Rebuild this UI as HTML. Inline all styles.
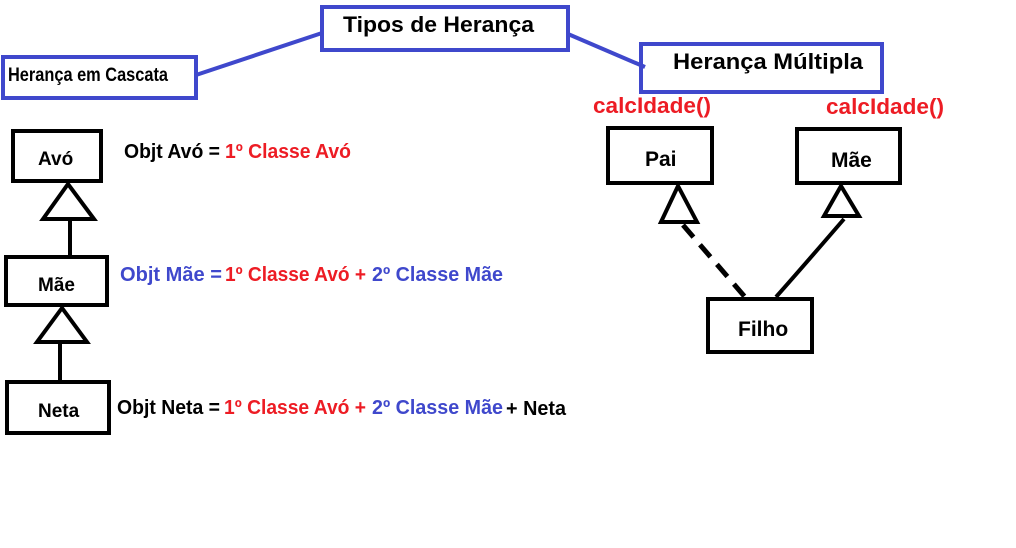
<!DOCTYPE html>
<html><head><meta charset="utf-8"><style>body{margin:0;background:#fff}svg{display:block}text{font-family:"Liberation Sans",sans-serif;font-weight:bold}</style></head>
<body>
<svg width="1016" height="548" viewBox="0 0 1016 548" xmlns="http://www.w3.org/2000/svg">
<rect width="1016" height="548" fill="#fff"/>
<g fill="none" stroke="#3f48cc" stroke-width="4">
<rect x="322" y="7" width="246" height="43"/>
<rect x="3" y="57" width="193" height="41"/>
<rect x="641" y="44" width="241" height="48"/>
<line x1="196" y1="75" x2="322" y2="33"/>
<line x1="568" y1="34" x2="645" y2="67"/>
</g>
<text x="343" y="32" font-size="22" textLength="191" lengthAdjust="spacingAndGlyphs">Tipos de Herança</text>
<text x="8" y="81" font-size="19" textLength="160" lengthAdjust="spacingAndGlyphs">Herança em Cascata</text>
<text x="673" y="69" font-size="22" textLength="190" lengthAdjust="spacingAndGlyphs">Herança Múltipla</text>
<text x="593" y="113" font-size="22" fill="#ed1c24" textLength="118" lengthAdjust="spacingAndGlyphs">calcIdade()</text>
<text x="826" y="114" font-size="22" fill="#ed1c24" textLength="118" lengthAdjust="spacingAndGlyphs">calcIdade()</text>
<g fill="none" stroke="#000" stroke-width="4">
<rect x="608" y="128" width="104" height="55"/>
<rect x="797" y="129" width="103" height="54"/>
<rect x="708" y="299" width="104" height="53"/>
<polygon points="678,186 661,222 697,222"/>
<polygon points="841,186 824,216 859,216"/>
<line x1="683" y1="225" x2="745" y2="297" stroke-width="5" stroke-dasharray="16,10"/>
<path d="M844,219 Q800,270 776,297"/>
<rect x="13" y="131" width="88" height="50"/>
<rect x="6" y="257" width="101" height="48"/>
<rect x="7" y="382" width="102" height="51"/>
<polygon points="68,184 43,219 94,219"/>
<line x1="70" y1="220" x2="70" y2="256"/>
<polygon points="62,308 37,342 87,342"/>
<line x1="60" y1="342" x2="60" y2="381"/>
</g>
<text x="645" y="166" font-size="21">Pai</text>
<text x="831" y="167" font-size="21">Mãe</text>
<text x="738" y="336" font-size="21">Filho</text>
<text x="38" y="165" font-size="19">Avó</text>
<text x="38" y="291" font-size="19">Mãe</text>
<text x="38" y="417" font-size="19">Neta</text>
<g font-size="20">
<text x="124" y="158" textLength="96" lengthAdjust="spacingAndGlyphs">Objt Avó =</text>
<text x="225" y="158" fill="#ed1c24" textLength="126" lengthAdjust="spacingAndGlyphs">1º Classe Avó</text>
<text x="120" y="281" fill="#3f48cc" textLength="102" lengthAdjust="spacingAndGlyphs">Objt Mãe =</text>
<text x="225" y="281" fill="#ed1c24" textLength="141" lengthAdjust="spacingAndGlyphs">1º Classe Avó +</text>
<text x="372" y="281" fill="#3f48cc" textLength="131" lengthAdjust="spacingAndGlyphs">2º Classe Mãe</text>
<text x="117" y="414" textLength="103" lengthAdjust="spacingAndGlyphs">Objt Neta =</text>
<text x="224" y="414" fill="#ed1c24" textLength="142" lengthAdjust="spacingAndGlyphs">1º Classe Avó +</text>
<text x="372" y="414" fill="#3f48cc" textLength="131" lengthAdjust="spacingAndGlyphs">2º Classe Mãe</text>
<text x="506" y="415" textLength="60" lengthAdjust="spacingAndGlyphs">+ Neta</text>
</g>
</svg>
</body></html>
